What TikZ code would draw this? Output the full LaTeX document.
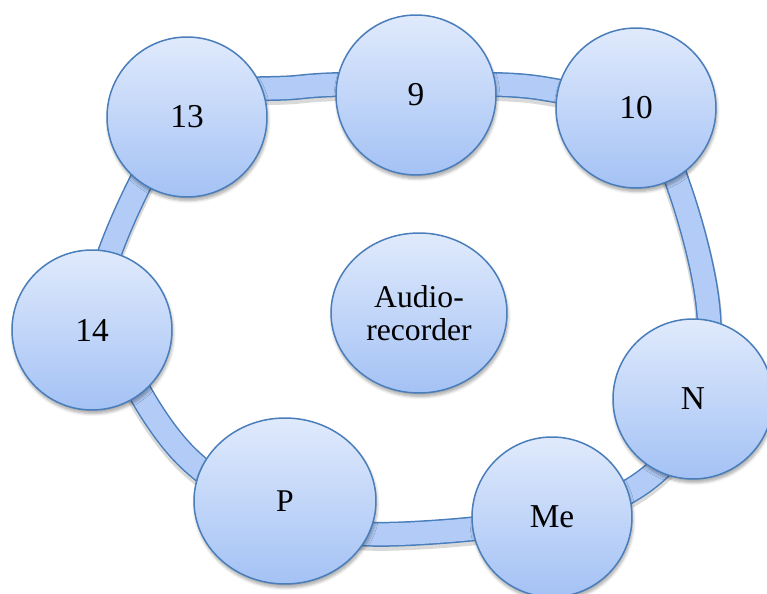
\documentclass[tikz,border=0pt]{standalone}
\usepackage{fontspec}
\newfontfamily\labelfont{Liberation Serif}
\usetikzlibrary{shapes.geometric,shadows.blur}
\definecolor{ringline}{RGB}{74,126,187}
\definecolor{ringfill}{RGB}{178,204,247}
\definecolor{circtop}{RGB}{224,234,252}
\definecolor{circbot}{RGB}{164,194,245}
\tikzset{member/.style = {circle, draw=ringline, line width=0.03cm, top color=circtop, bottom color=circbot,
                          minimum size=3.2cm, inner sep=0pt, font=\labelfont\fontsize{19}{21}\selectfont,
                          blur shadow={shadow xshift=0.02cm, shadow yshift=-0.07cm, shadow blur steps=6, shadow opacity=35}},
         device/.style = {member, ellipse, align=center, font=\labelfont\fontsize{18}{19}\selectfont},
         ringedge/.style = {draw=ringline, line width=0.5cm},
         ringbody/.style = {draw=ringfill, line width=0.44cm},
         ringshade/.style = {draw=black, opacity=0.15, line width=0.54cm},
}

\def\ringpath{plot[smooth cycle, tension=0.6] coordinates {(110,252) (190,110) (300,87) (415,85) (540,88)
      (640,120) (680,190) (709,320) (690,430) (600,505) (420,533) (300,522) (185,455) (110,330)}}

\begin{document}
\begin{tikzpicture}[x=0.02cm, y=-0.02cm]
  \useasboundingbox (0,0) rectangle (767,594);

  % the band that links the circles
  \draw[ringshade, yshift=-0.06cm] \ringpath;
  \draw[ringedge] \ringpath;
  \draw[ringbody] \ringpath;

  \node[member] (n13) at (187,117) {13};
  \node[member] (n9) at (416,95) {9};
  \node[member] (n10) at (636,108) {10};
  \node[member] (n14) at (92,330) {14};
  \node[member] (nN) at (693,399) {N};
  \node[member] (nMe) at (552,517) {Me};
  \node[device, minimum width=3.64cm, minimum height=3.32cm] (nP) at (285,501) {P};
  \node[device, minimum width=3.52cm, minimum height=3.2cm] (audio) at (419,313) {Audio-\\recorder};
\end{tikzpicture}
\end{document}
